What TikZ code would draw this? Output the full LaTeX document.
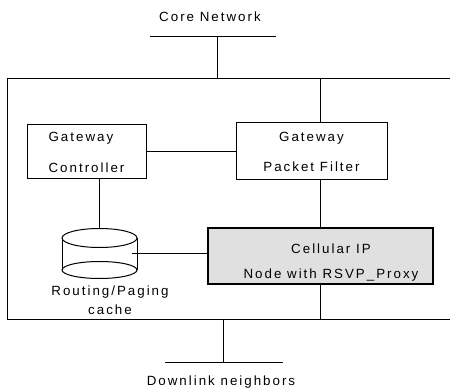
\documentclass[tikz,border=0pt]{standalone}
\usepackage{fontspec}
\setmainfont{Liberation Sans}[LetterSpace=15]
\usetikzlibrary{calc}

\tikzset{
  wire/.style={line width=0.75pt},
  gwbox/.style={draw, line width=0.75pt, inner sep=0pt, font=\fontsize{10}{11}\selectfont},
  cipbox/.style={draw, line width=0.9pt, fill=black!12, inner sep=0pt},
  lbl/.style={inner sep=0pt, font=\fontsize{10}{11}\selectfont}
}

\begin{document}
\begin{tikzpicture}[x=0.75pt,y=0.75pt,yscale=-1,xscale=1]
\useasboundingbox (0,0) rectangle (450,392);

%Core network bar
\node (core) [lbl] at (210,17) {Core Network};
\coordinate (coreL) at (150,37);
\coordinate (coreR) at (276,37);
\coordinate (coreJ) at (217,37);
\draw [wire] (coreL) -- (coreR);

%Outer frame (open on the right)
\coordinate (outTL) at (7,79);
\coordinate (outBL) at (7,319);
\draw [wire] (450,79) -- (outTL) -- (outBL) -- (450,319);
\draw [wire] (coreJ) -- (coreJ |- outTL);

% Gateway boxes
\node (gwc) [gwbox, minimum width=89.25pt, minimum height=40.5pt, align=left] at (86.5,152) {Gateway\\[12.25pt]Controller};
\node (gwp) [gwbox, minimum width=113.25pt, minimum height=42.75pt, align=center] at (311.5,151.5) {Gateway\\[11.5pt]Packet Filter};

% Cellular IP node
\node (cip) [cipbox, minimum width=168.75pt, minimum height=42pt] at (320.5,256) {};
\node (ciptxt) [lbl, align=center] at (331,262.5) {Cellular IP\\[7.75pt]Node with RSVP\_Proxy};

% Routing/Paging cache (cylinder)
\draw [wire] (99.5,238) ellipse [x radius=37.5, y radius=9.5];
\draw [wire] (99.5,270) ellipse [x radius=37.5, y radius=8.5];
\draw [wire] (62,238) -- (62,270);
\draw [wire] (137,238) -- (137,270);
\coordinate (cylTop) at (99.5,228.5);
\coordinate (cylR) at (132,254);
\node (cache) [lbl, align=center] at (110,300.5) {Routing/Paging\\[3.25pt]cache};

%Straight Lines
\coordinate (tapR) at (320,79);
\draw [wire] (tapR) -- (tapR |- gwp.north);
\draw [wire] (gwc.east) -- (gwc.east -| gwp.west);
\draw [wire] (tapR |- gwp.south) -- (tapR |- cip.north);
\draw [wire] (cylTop |- gwc.south) -- (cylTop);
\draw [wire] (cylR) -- (cylR -| cip.west);
\draw [wire] (tapR |- cip.south) -- (tapR |- outBL);

%Downlink bar
\coordinate (downJ) at (223,319);
\coordinate (downL) at (165,362);
\coordinate (downR) at (283,362);
\draw [wire] (downJ) -- (downJ |- downL);
\draw [wire] (downL) -- (downR);
\node (down) [lbl] at (221,382) {Downlink neighbors};

\end{tikzpicture}
\end{document}
